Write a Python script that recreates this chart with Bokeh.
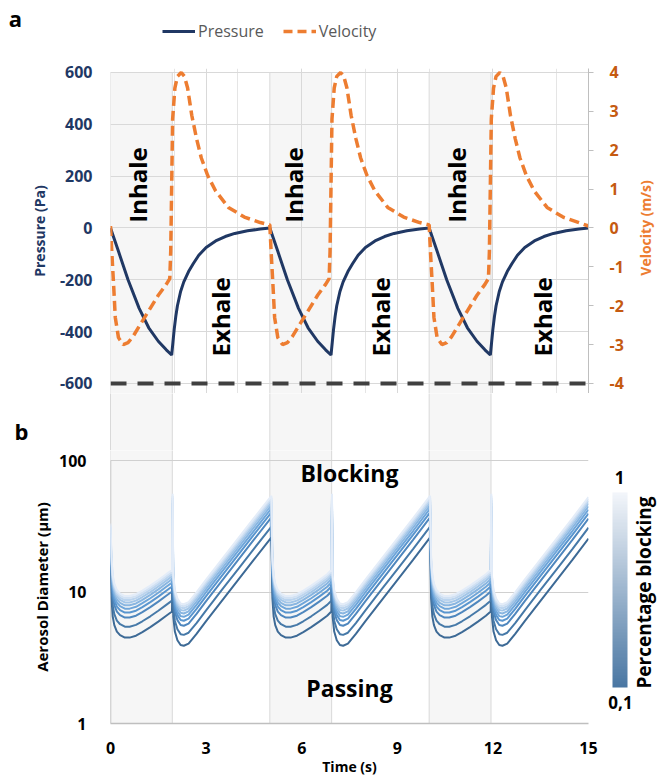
import numpy as np
from bokeh.plotting import figure
from bokeh.layouts import column, row
from bokeh.models import (Range1d, LinearAxis, FixedTicker, Grid, Legend, LegendItem,
                          Span, ColorBar, LinearColorMapper, PrintfTickFormatter, ColumnDataSource)
from bokeh.core.properties import value
from bokeh.embed import file_html
from bokeh.resources import INLINE

FONT = "Open Sans"

# ---------------- panel a data ----------------
p_time = [0.0, 0.25, 0.55, 0.9, 1.2, 1.5, 1.75, 1.92, 1.96, 2.0, 2.05, 2.1, 2.2, 2.3, 2.45, 2.6, 2.77, 3.0, 3.3, 3.6, 3.9, 4.3, 4.7,
          5.0, 5.25, 5.55, 5.9, 6.2, 6.5, 6.75, 6.92, 6.96, 7.0, 7.05, 7.1, 7.2, 7.3, 7.45, 7.6, 7.77, 8.0, 8.3, 8.6, 8.9, 9.3, 9.7,
          10.0, 10.25, 10.55, 10.9, 11.2, 11.5, 11.75, 11.92, 11.96, 12.0, 12.05, 12.1, 12.2, 12.3, 12.45, 12.6, 12.77, 13.0, 13.3, 13.6, 13.9, 14.3, 14.7,
          15.0]
pressure = [0, -90, -200, -310, -385, -437, -470, -490, -440, -390, -340, -300, -245, -208, -168, -137, -105, -75, -50, -33, -21, -11, -4,
            0, -90, -200, -310, -385, -437, -470, -490, -440, -390, -340, -300, -245, -208, -168, -137, -105, -75, -50, -33, -21, -11, -4,
            0, -90, -200, -310, -385, -437, -470, -490, -440, -390, -340, -300, -245, -208, -168, -137, -105, -75, -50, -33, -21, -11, -4,
            0]

v_time = [0.0, 0.04, 0.1, 0.15, 0.25, 0.4, 0.55, 0.7, 0.9, 1.2, 1.5, 1.75, 1.86, 1.89, 1.92, 1.95, 2.02, 2.1, 2.22, 2.32, 2.42, 2.55, 2.7, 2.85, 3.05, 3.3, 3.7, 4.2, 4.7,
          5.0, 5.04, 5.1, 5.15, 5.25, 5.4, 5.55, 5.7, 5.9, 6.2, 6.5, 6.75, 6.86, 6.89, 6.92, 6.95, 7.02, 7.1, 7.22, 7.32, 7.42, 7.55, 7.7, 7.85, 8.05, 8.3, 8.7, 9.2, 9.7,
          10.0, 10.04, 10.1, 10.15, 10.25, 10.4, 10.55, 10.7, 10.9, 11.2, 11.5, 11.75, 11.86, 11.89, 11.92, 11.95, 12.02, 12.1, 12.22, 12.32, 12.42, 12.55, 12.7, 12.85, 13.05, 13.3, 13.7, 14.2, 14.7,
          15.0]
velocity = [0.05, -0.6, -1.5, -2.3, -2.82, -3.0, -2.95, -2.8, -2.53, -2.13, -1.73, -1.45, -1.3, -0.6, 1.1, 2.8, 3.6, 3.9, 4.0, 3.9, 3.6, 2.9, 2.3, 1.8, 1.35, 0.95, 0.53, 0.28, 0.14,
            0.08, -0.6, -1.5, -2.3, -2.82, -3.0, -2.95, -2.8, -2.53, -2.13, -1.73, -1.45, -1.3, -0.6, 1.1, 2.8, 3.6, 3.9, 4.0, 3.9, 3.6, 2.9, 2.3, 1.8, 1.35, 0.95, 0.53, 0.28, 0.14,
            0.08, -0.6, -1.5, -2.3, -2.82, -3.0, -2.95, -2.8, -2.53, -2.13, -1.73, -1.45, -1.3, -0.6, 1.1, 2.8, 3.6, 3.9, 4.0, 3.9, 3.6, 2.9, 2.3, 1.8, 1.35, 0.95, 0.53, 0.28, 0.14,
            0.05]

inhale_start = [0.0, 5.0, 10.0]
inhale_end = [1.94, 6.94, 11.94]
pressure_ticks = [-600, -400, -200, 0, 200, 400, 600]
velocity_ticks = [-4, -3, -2, -1, 0, 1, 2, 3, 4]
time_ticks = [0, 3, 6, 9, 12, 15]
inhale_label_x = [0.85, 5.74, 10.86]
inhale_label_y = [166, 166, 166]
exhale_label_x = [3.45, 8.47, 13.56]
exhale_label_y = [-343, -343, -343]

# ---------------- panel b data ----------------
d_time = [0.0, 0.03, 0.07, 0.12, 0.2, 0.3, 0.45, 0.6, 0.8, 1.0, 1.25, 1.5, 1.75, 1.93, 1.95, 1.97, 2.02, 2.1, 2.2, 2.3, 2.45, 2.7, 3.0, 3.5, 4.0, 4.5,
          5.05, 5.08, 5.12, 5.17, 5.25, 5.35, 5.5, 5.65, 5.85, 6.05, 6.3, 6.55, 6.8, 6.93, 6.95, 6.97, 7.02, 7.1, 7.2, 7.3, 7.45, 7.7, 8.0, 8.5, 9.0, 9.5,
          10.03, 10.06, 10.1, 10.15, 10.23, 10.33, 10.48, 10.63, 10.83, 11.03, 11.28, 11.53, 11.78, 11.93, 11.95, 11.97, 12.02, 12.1, 12.2, 12.3, 12.45, 12.7, 13.0, 13.5, 14.0, 14.5,
          15.0]
# diameter of the 0.1 (darkest) curve, um
d_lowest = [16, 9, 6.5, 5.6, 5.0, 4.7, 4.5, 4.5, 4.65, 4.95, 5.4, 5.95, 6.6, 7.1, 27, 6.5, 5.0, 4.3, 3.95, 3.9, 4.05, 4.8, 6.0, 8.6, 12.3, 17.6,
            26, 9, 6.5, 5.6, 5.0, 4.7, 4.5, 4.5, 4.65, 4.95, 5.4, 5.95, 6.6, 7.1, 27, 6.5, 5.0, 4.3, 3.95, 3.9, 4.05, 4.8, 6.0, 8.6, 12.3, 17.6,
            26, 9, 6.5, 5.6, 5.0, 4.7, 4.5, 4.5, 4.65, 4.95, 5.4, 5.95, 6.6, 7.1, 27, 6.5, 5.0, 4.3, 3.95, 3.9, 4.05, 4.8, 6.0, 8.6, 12.3, 17.6,
            25.5]
blocking_levels = [0.1, 0.2, 0.3, 0.4, 0.5, 0.6, 0.7, 0.8, 0.9, 1.0]
level_ratio = [1.00, 1.21, 1.42, 1.55, 1.66, 1.76, 1.85, 1.93, 2.00, 2.07]
diam_ticks = [1, 10, 100]
zone_labels = ["Blocking", "Passing"]
zone_x = [7.5, 7.5]
zone_y = [81, 1.85]

curve_colors = ["#3D6A96", "#4679A8", "#4F87BE", "#5A96CF", "#6FA6DA",
                "#89B6E1", "#A3C6E8", "#BBD4EE", "#D1E1F3", "#E3ECF8"]

NAVY = "#1F3864"
ORANGE = "#ED7D31"
ORANGE_DK = "#C55A11"
GRID = "#D9D9D9"
BAND = "#F6F6F6"

FULL_W = 661
LEFT = 110                # frame left edge (px) of both panels
FRAME_W = 478             # frame width (px) of both panels
PX_PER_S = FRAME_W / 15.0


def bare(fig):
    fig.grid.visible = False
    fig.outline_line_color = None
    return fig


# ================= header (panel letter + legend) =================
hdr = bare(figure(width=FULL_W, height=60, x_range=Range1d(0, FULL_W), y_range=Range1d(0, 60),
                  x_axis_location=None, y_axis_location=None, min_border=0,
                  output_backend="svg", toolbar_location=None))
hdr.text(x=[15], y=[43], text=["a"], text_align="center", text_baseline="middle",
         text_font=value(FONT), text_font_style="bold", text_font_size="22px", text_color="black")
lg_p = hdr.line(x=[np.nan], y=[np.nan], line_color="#203864", line_width=3)
lg_v = hdr.line(x=[np.nan], y=[np.nan], line_color=ORANGE, line_width=3.5, line_dash="9 5")
legend = Legend(items=[LegendItem(label="Pressure", renderers=[lg_p]),
                       LegendItem(label="Velocity", renderers=[lg_v])],
                location=(162, 18), orientation="horizontal", padding=0, margin=0,
                spacing=19, glyph_width=33, glyph_height=20, label_standoff=3,
                label_text_font=FONT, label_text_font_size="16px", label_text_color="#595959",
                background_fill_alpha=0, border_line_alpha=0)
hdr.add_layout(legend)

# ================= panel a =================
P_TOP, P_BOT = 615.4, -638.6
pa = figure(width=632, height=333, x_range=Range1d(0, 15), y_range=Range1d(P_BOT, P_TOP),
            x_axis_location=None, output_backend="svg", toolbar_location=None,
            min_border_left=LEFT, min_border_right=44, min_border_top=8, min_border_bottom=0,
            outline_line_color=None)
pa.extra_y_ranges = {"vel": Range1d(P_BOT / 150, P_TOP / 150)}

pa.quad(left=inhale_start, right=inhale_end, bottom=P_BOT - 100, top=pressure_ticks[-1],
        fill_color=BAND, line_color=GRID, line_width=1, level="image")

ya = pa.yaxis[0]
ya.ticker = FixedTicker(ticks=pressure_ticks, minor_ticks=[])
ya.formatter = PrintfTickFormatter(format="%d")
ya.axis_line_color = None
ya.major_tick_line_color = None
ya.minor_tick_line_color = None
ya.major_label_standoff = 12
ya.major_label_text_font = FONT
ya.major_label_text_font_style = "bold"
ya.major_label_text_font_size = "16px"
ya.major_label_text_color = NAVY
ya.axis_label = "Pressure (Pa)"
ya.axis_label_text_font = FONT
ya.axis_label_text_font_style = "bold"
ya.axis_label_text_font_size = "14px"
ya.axis_label_text_color = NAVY
ya.axis_label_standoff = 8

pa.ygrid.ticker = FixedTicker(ticks=pressure_ticks)
pa.ygrid.grid_line_color = GRID
pa.add_layout(Grid(dimension=0, ticker=FixedTicker(ticks=time_ticks), grid_line_color=GRID))

ra = LinearAxis(y_range_name="vel", ticker=FixedTicker(ticks=velocity_ticks, minor_ticks=[]),
                formatter=PrintfTickFormatter(format="%d"))
ra.axis_line_color = "#BFBFBF"
ra.major_tick_line_color = "#BFBFBF"
ra.major_tick_out = 5
ra.major_tick_in = 0
ra.major_label_standoff = 16
ra.major_label_text_font = FONT
ra.major_label_text_font_style = "bold"
ra.major_label_text_font_size = "16px"
ra.major_label_text_color = ORANGE_DK
pa.add_layout(ra, "right")

pa.add_layout(Span(location=pressure_ticks[0], dimension="width", line_color="#404040",
                   line_width=4, line_dash="16 11"))

pa.line(p_time, pressure, line_color="#203864", line_width=3)
pa.line(v_time, velocity, y_range_name="vel", line_color=ORANGE, line_width=3.5, line_dash="10 5")

pa.text(x=inhale_label_x, y=inhale_label_y, text=["Inhale"] * 3, angle=np.pi / 2,
        text_align="center", text_baseline="middle", text_font=value(FONT),
        text_font_style="bold", text_font_size="24px", text_color="black")
pa.text(x=exhale_label_x, y=exhale_label_y, text=["Exhale"] * 3, angle=np.pi / 2,
        text_align="center", text_baseline="middle", text_font=value(FONT),
        text_font_style="bold", text_font_size="24px", text_color="black")

# right-axis title strip (frame aligned with panel a, shares its y range)
vfig = bare(figure(width=29, height=333, x_range=Range1d(0, 29), y_range=pa.y_range,
                   x_axis_location=None, y_axis_location=None, min_border=0,
                   output_backend="svg", toolbar_location=None))
vfig.text(x=[13], y=[pressure_ticks[3]], text=["Velocity (m/s)"], angle=np.pi / 2, text_align="center",
          text_baseline="middle", text_font=value(FONT), text_font_style="bold",
          text_font_size="14px", text_color=ORANGE)

# ================= gap between panels =================
gap = bare(figure(width=FULL_W, height=57,
                  x_range=Range1d(-LEFT / PX_PER_S, (FULL_W - LEFT) / PX_PER_S), y_range=Range1d(0, 57),
                  x_axis_location=None, y_axis_location=None, min_border=0,
                  output_backend="svg", toolbar_location=None))
gap.quad(left=inhale_start, right=inhale_end, bottom=-10, top=67, fill_color=BAND, line_color=None)
gap.segment(x0=inhale_start + inhale_end, y0=-10, x1=inhale_start + inhale_end, y1=67,
            line_color=GRID, line_width=1)
gap.text(x=[(21 - LEFT) / PX_PER_S], y=[20], text=["b"], text_align="center", text_baseline="middle",
         text_font=value(FONT), text_font_style="bold", text_font_size="22px", text_color="black")

# ================= panel b =================
pb = figure(width=600, height=328, x_range=Range1d(0, 15), y_range=Range1d(1, 10 ** (2 + 10 / 131.5)),
            y_axis_type="log", output_backend="svg", toolbar_location=None,
            min_border_left=LEFT, min_border_right=12, min_border_top=0, min_border_bottom=53,
            outline_line_color=None)

pb.quad(left=inhale_start, right=inhale_end, bottom=diam_ticks[0], top=1000,
        fill_color=BAND, line_color=GRID, line_width=1, level="image")

pb.xgrid.visible = False
pb.ygrid.ticker = FixedTicker(ticks=diam_ticks[1:])
pb.ygrid.grid_line_color = "#D0D0D0"

yb = pb.yaxis[0]
yb.ticker = FixedTicker(ticks=diam_ticks, minor_ticks=[])
yb.formatter = PrintfTickFormatter(format="%d")
yb.axis_line_color = None
yb.major_tick_line_color = None
yb.minor_tick_line_color = None
yb.major_label_standoff = 18
yb.major_label_text_font = FONT
yb.major_label_text_font_style = "bold"
yb.major_label_text_font_size = "16px"
yb.major_label_text_color = "black"
yb.axis_label = "Aerosol Diameter (μm)"
yb.axis_label_text_font = FONT
yb.axis_label_text_font_style = "bold"
yb.axis_label_text_font_size = "15px"
yb.axis_label_text_color = "black"
yb.axis_label_standoff = 4

xb = pb.xaxis[0]
xb.ticker = FixedTicker(ticks=time_ticks, minor_ticks=[])
xb.axis_line_color = "#BFBFBF"
xb.axis_line_width = 1.5
xb.major_tick_line_color = None
xb.minor_tick_line_color = None
xb.major_label_standoff = 12
xb.major_label_text_font = FONT
xb.major_label_text_font_style = "bold"
xb.major_label_text_font_size = "16px"
xb.major_label_text_color = "black"
xb.axis_label = "Time (s)"
xb.axis_label_text_font = FONT
xb.axis_label_text_font_style = "bold"
xb.axis_label_text_font_size = "14px"
xb.axis_label_text_color = "black"
xb.axis_label_standoff = 0

pb.segment(x0=[time_ticks[0]], y0=[diam_ticks[0]], x1=[time_ticks[0]], y1=[diam_ticks[-1]],
           line_color="#BFBFBF", line_width=1.5)

for lvl, ratio, col in zip(blocking_levels, level_ratio, curve_colors):
    src = ColumnDataSource(dict(t=d_time, d=list(np.array(d_lowest) * ratio)))
    pb.line("t", "d", source=src, line_color=col, line_width=2)

pb.text(x=zone_x, y=zone_y, text=zone_labels, text_align="center", text_baseline="middle",
        text_font=value(FONT), text_font_style="bold", text_font_size="23px", text_color="black")

# colour bar strip (frame aligned with panel b, shares its log y range)
cbf = bare(figure(width=61, height=328, x_range=Range1d(0, 61), y_range=pb.y_range,
                  y_axis_type="log", x_axis_location=None, y_axis_location=None, min_border=0,
                  output_backend="svg", toolbar_location=None))
c_lo = np.array([0x4A, 0x77, 0xA3])
c_hi = np.array([0xF2, 0xF5, 0xFA])
cb_palette = ["#%02x%02x%02x" % tuple(int(round(v)) for v in c_lo + (c_hi - c_lo) * k / 63) for k in range(64)]
mapper = LinearColorMapper(palette=cb_palette, low=blocking_levels[0], high=blocking_levels[-1])
cb = ColorBar(color_mapper=mapper, location=(12, 36), width=15, height=195, padding=0, margin=0,
              ticker=FixedTicker(ticks=[]), major_label_text_font_size="0px",
              major_tick_line_color=None, minor_tick_line_color=None, bar_line_color=None,
              background_fill_alpha=0, border_line_color=None)
cbf.add_layout(cb)
cbf.text(x=[19, 20], y=[74.3, 1.44], text=["1", "0,1"], text_align="center", text_baseline="middle",
         text_font=value(FONT), text_font_style="bold", text_font_size="17px", text_color="black")
cbf.text(x=[43], y=[9.9], text=["Percentage blocking"], angle=np.pi / 2, text_align="center",
         text_baseline="middle", text_font=value(FONT), text_font_style="bold",
         text_font_size="19px", text_color="black")

layout = column(hdr, row(pa, vfig), gap, row(pb, cbf))
open("out.html", "w").write(file_html(layout, INLINE))
